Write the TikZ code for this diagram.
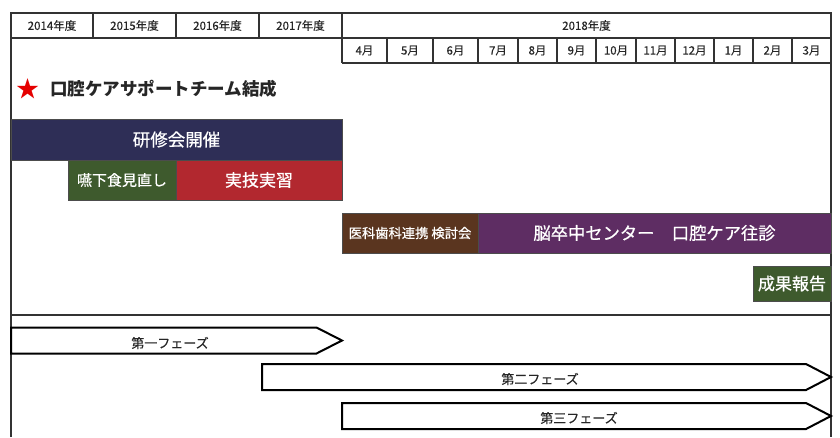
\documentclass[tikz,border=0pt]{standalone}
\usepackage{fontspec}
\setmainfont{Noto Sans CJK JP}
\newfontfamily\jpmed[FakeBold=0.6]{Noto Sans CJK JP}
\newfontfamily\jplight[FakeBold=0.3]{Noto Sans CJK JP}
\definecolor{navy}{HTML}{2E2E56}
\definecolor{barred}{HTML}{B2282F}
\definecolor{bargreen}{HTML}{3E5A2D}
\definecolor{barbrown}{HTML}{5A351F}
\definecolor{barpurple}{HTML}{5E2D63}
\definecolor{frame}{HTML}{333333}
\tikzset{
  gridline/.style={draw=frame, line width=1.3pt},
  hdr/.style={font=\jplight\fontsize{11.5}{13}\selectfont, text=black!85, inner sep=0pt},
  bar/.style={rectangle, inner sep=0pt, text=white, draw=black!70, line width=0.6pt},
  phase/.style={draw=black, line width=2pt, fill=white, line join=miter},
  phaselbl/.style={font=\jplight\fontsize{13}{15}\selectfont, text=black!85, inner sep=0pt}
}
\begin{document}
\begin{tikzpicture}[x=1pt,y=-1pt]
\useasboundingbox (0,0) rectangle (840,437);
% frame and header grid
\draw[gridline] (11,437) -- (11,13) -- (831,13) -- (831,437);
\draw[gridline] (11,38) -- (831,38);
\draw[gridline] (342,63) -- (831,63);
\draw[gridline] (11,315) -- (831,315);
\foreach \x in {93,176,259,342} \draw[gridline] (\x,13) -- (\x,38);
\foreach \x in {342,387,433,478,518,557,596,636,675,714,753,792} \draw[gridline] (\x,38) -- (\x,63);
% year labels
\node[hdr] (y2014) at (52,25.5) {2014年度};
\node[hdr] (y2015) at (134.5,25.5) {2015年度};
\node[hdr] (y2016) at (217.5,25.5) {2016年度};
\node[hdr] (y2017) at (300.5,25.5) {2017年度};
\node[hdr] (y2018) at (586.5,25.5) {2018年度};
% month labels
\node[hdr] (m4) at (364.5,50.5) {4月};
\node[hdr] (m5) at (410,50.5) {5月};
\node[hdr] (m6) at (455.5,50.5) {6月};
\node[hdr] (m7) at (498,50.5) {7月};
\node[hdr] (m8) at (537.5,50.5) {8月};
\node[hdr] (m9) at (576.5,50.5) {9月};
\node[hdr] (m10) at (616,50.5) {10月};
\node[hdr] (m11) at (655.5,50.5) {11月};
\node[hdr] (m12) at (694.5,50.5) {12月};
\node[hdr] (m1) at (733.5,50.5) {1月};
\node[hdr] (m2) at (772.5,50.5) {2月};
\node[hdr] (m3) at (811.5,50.5) {3月};
% team formation
\node[text=red!90!black, font=\fontsize{23}{23}\selectfont, inner sep=0pt] (star) at (28,89) {★};
\node[anchor=west, font=\fontsize{17.5}{20}\selectfont\bfseries, text=black!85, inner sep=0pt] (team) at (50,89) {口腔ケアサポートチーム結成};
% bars
\node[bar, fill=navy, minimum width=331pt, minimum height=41pt, font=\jpmed\fontsize{17.5}{20}\selectfont] (kenshu) at (176.5,139.5) {研修会開催};
\node[bar, fill=bargreen, minimum width=108pt, minimum height=40pt, font=\jpmed\fontsize{15}{17}\selectfont] (enge) at (122,180) {嚥下食見直し};
\node[bar, fill=barred, minimum width=166pt, minimum height=40pt, font=\jpmed\fontsize{17}{20}\selectfont] (jitsugi) at (259,180) {実技実習};
\node[bar, fill=barbrown, minimum width=136pt, minimum height=40pt, font=\jpmed\fontsize{13.3}{15}\selectfont] (renkei) at (410,233) {医科歯科連携 検討会};
\node[bar, fill=barpurple, minimum width=353pt, minimum height=40pt, font=\jpmed\fontsize{17.3}{20}\selectfont] (noso) at (654.5,233) {脳卒中センター\quad 口腔ケア往診};
\node[bar, fill=bargreen, minimum width=78pt, minimum height=35pt, font=\jpmed\fontsize{17}{20}\selectfont] (seika) at (792,283.5) {成果報告};
% phases
\draw[phase] (11,327.5) -- (316.5,327.5) -- (342,340.5) -- (316.5,353.5) -- (11,353.5) -- cycle;
\node[phaselbl] (p1) at (170,343) {第一フェーズ};
\draw[phase] (262,364) -- (806,364) -- (831,377) -- (806,390) -- (262,390) -- cycle;
\node[phaselbl] (p2) at (540,379) {第二フェーズ};
\draw[phase] (342,403) -- (806,403) -- (831,416) -- (806,429) -- (342,429) -- cycle;
\node[phaselbl] (p3) at (579,418) {第三フェーズ};
\end{tikzpicture}
\end{document}
